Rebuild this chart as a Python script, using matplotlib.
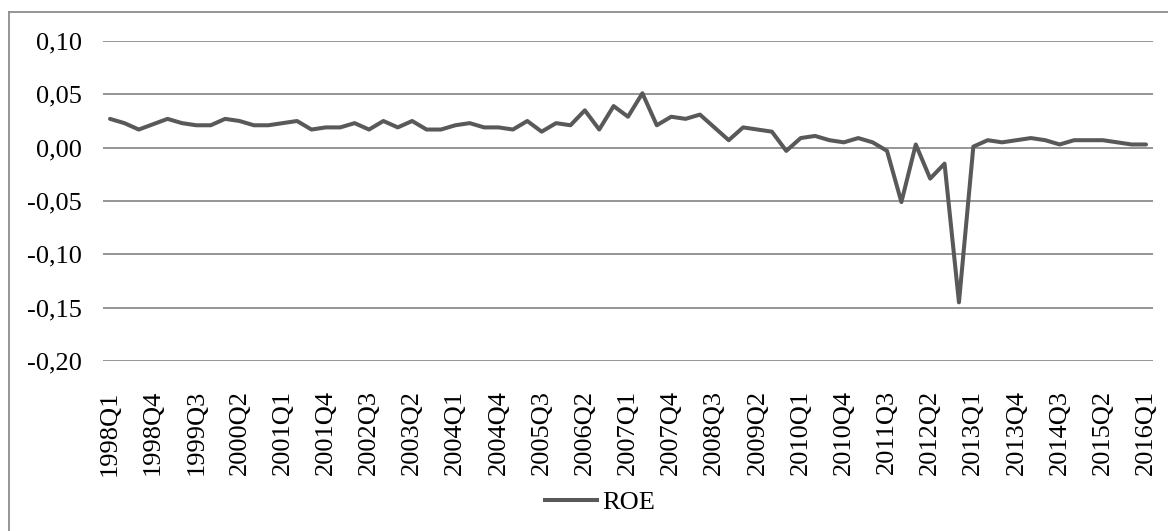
import matplotlib
matplotlib.use("Agg")
import matplotlib.pyplot as plt
from matplotlib.lines import Line2D
from matplotlib.ticker import FuncFormatter

# Quarterly ROE, 1998Q1 - 2016Q1
years = list(range(1998, 2017))
quarters = [f"{y}Q{q}" for y in years for q in range(1, 5)][:73]

roe = [
    0.027, 0.023, 0.017, 0.022, 0.027, 0.023, 0.021, 0.021, 0.027, 0.025,
    0.021, 0.021, 0.023, 0.025, 0.017, 0.019, 0.019, 0.023, 0.017, 0.025,
    0.019, 0.025, 0.017, 0.017, 0.021, 0.023, 0.019, 0.019, 0.017, 0.025,
    0.015, 0.023, 0.021, 0.035, 0.017, 0.039, 0.029, 0.051, 0.021, 0.029,
    0.027, 0.031, 0.019, 0.007, 0.019, 0.017, 0.015, -0.003, 0.009, 0.011,
    0.007, 0.005, 0.009, 0.005, -0.003, -0.051, 0.003, -0.029, -0.015, -0.145,
    0.001, 0.007, 0.005, 0.007, 0.009, 0.007, 0.003, 0.007, 0.007, 0.007,
    0.005, 0.003, 0.003,
]

series_name = "ROE"
y_ticks = [-0.20, -0.15, -0.10, -0.05, 0.00, 0.05, 0.10]

plt.rcParams["font.family"] = ["Liberation Serif", "DejaVu Serif"]

W, H = 1168, 531
fig = plt.figure(figsize=(W / 100, H / 100), dpi=100)
fig.patch.set_facecolor("white")

left, right = 102.8, 1153.2
top, bottom = 41.0, 361.0
ax = fig.add_axes([left / W, 1 - bottom / H, (right - left) / W, (bottom - top) / H])

x = list(range(len(quarters)))
ax.plot(x, roe, color="#595959", linewidth=2.9, solid_joinstyle="round",
        solid_capstyle="round", zorder=3)

ax.set_xlim(-0.5, len(quarters) - 0.5)
ax.set_ylim(y_ticks[0], y_ticks[-1])
ax.set_yticks(y_ticks)
ax.yaxis.set_major_formatter(FuncFormatter(lambda v, p: f"{v:.2f}".replace(".", ",")))
ax.set_xticks(x[::3])
ax.set_xticklabels(quarters[::3], rotation=90, va="top", ha="center")

for s in ax.spines.values():
    s.set_visible(False)
ax.grid(axis="y", color="#8c8c8c", linewidth=1.3, zorder=1)
ax.set_axisbelow(True)
ax.tick_params(axis="both", length=0, labelsize=19, colors="black")
ax.tick_params(axis="y", pad=15)
ax.tick_params(axis="x", pad=21)

# Legend at the bottom
handle = Line2D([], [], color="#595959", linewidth=2.9)
fig.legend([handle], [series_name], loc="center", bbox_to_anchor=(600 / W, 1 - 502 / H),
           frameon=False, fontsize=19, handlelength=2.0, handletextpad=0.2,
           borderpad=0)

# Chart frame (top and left edges)
fig.add_artist(Line2D([9 / W, 1.0], [1 - 12 / H, 1 - 12 / H], color="#8c8c8c", linewidth=1.3))
fig.add_artist(Line2D([9 / W, 9 / W], [1 - 12 / H, 0.0], color="#8c8c8c", linewidth=1.3))

fig.savefig("out.png", dpi=100, facecolor="white")
